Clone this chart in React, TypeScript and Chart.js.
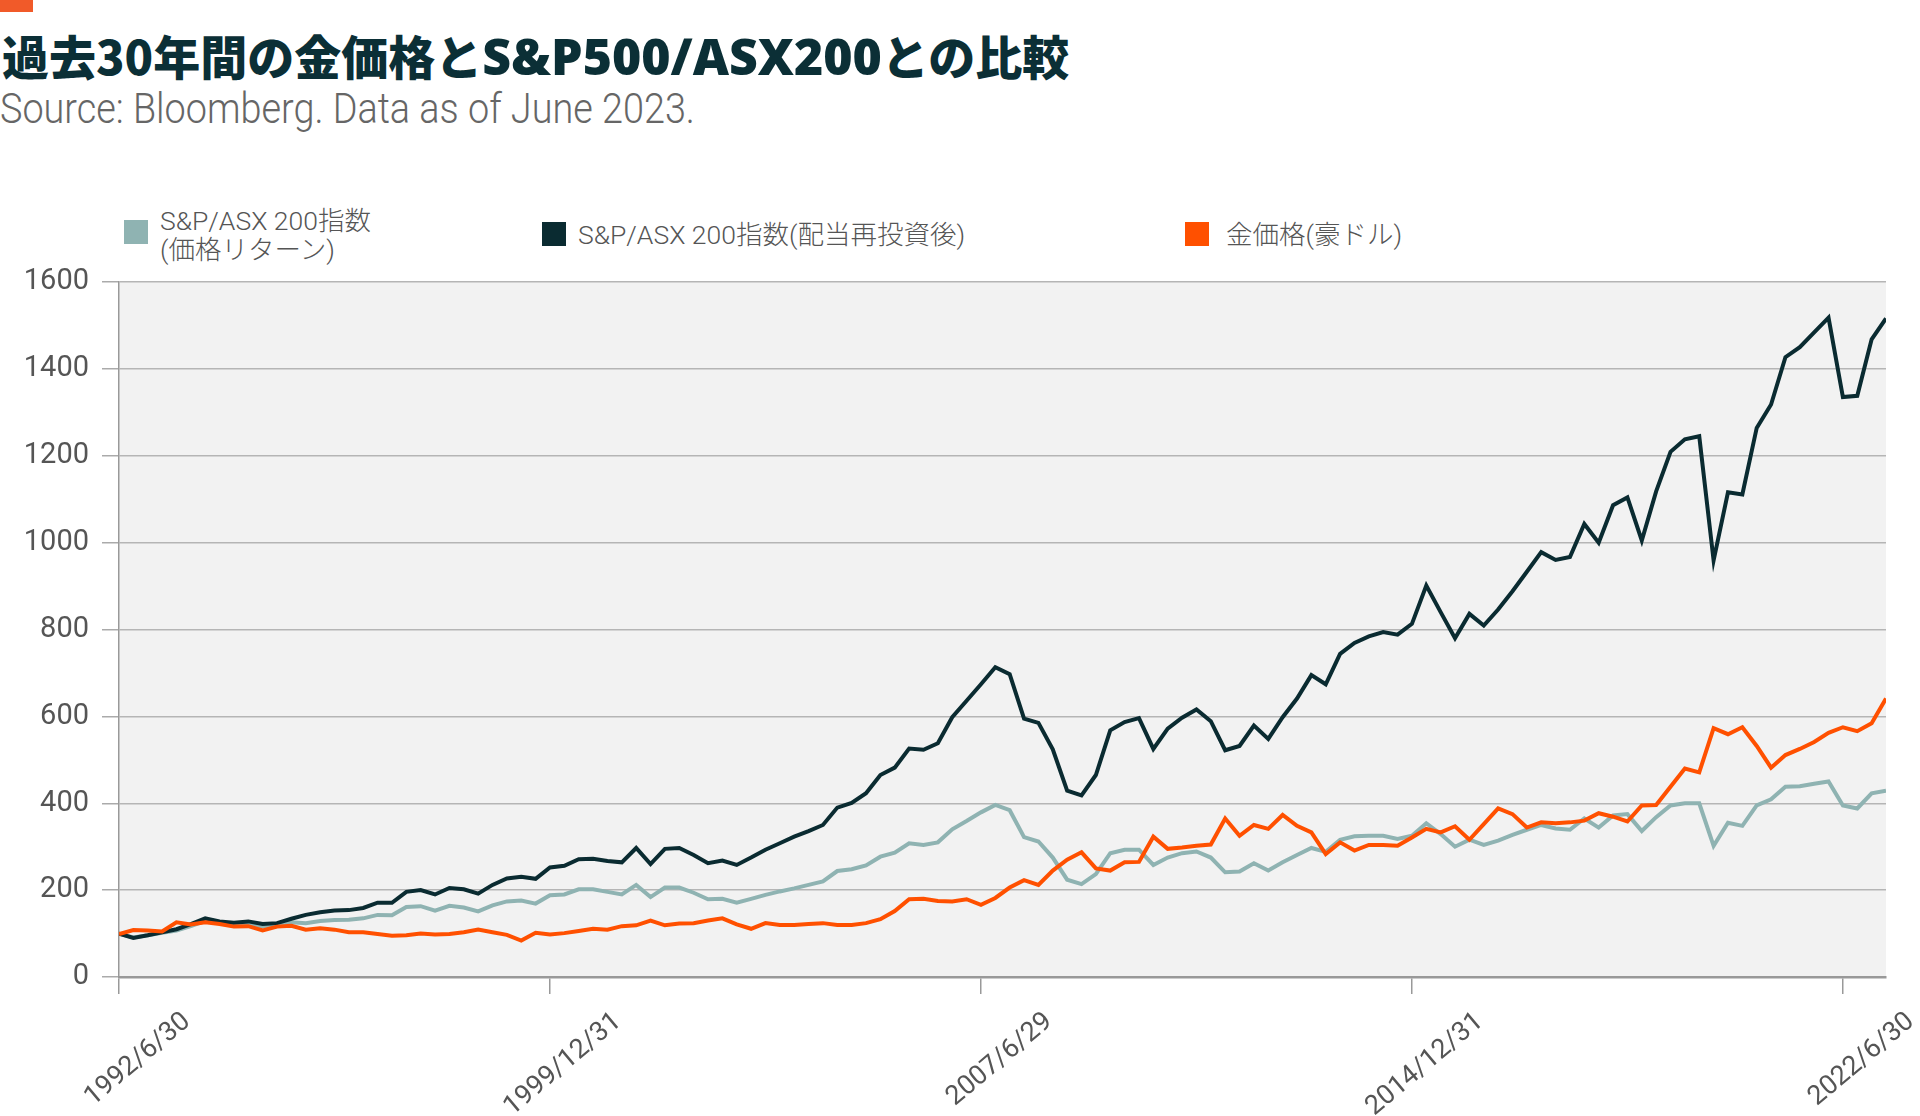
import React, { useEffect, useRef } from "react";
import { Chart, registerables } from "chart.js";

Chart.register(...registerables);

const titleParts = ["過去30年間の金価格と", "S&P500/ASX200", "との比較"];
const subtitleText = "Source: Bloomberg. Data as of June 2023.";

const tickDates = ["1992/6/30", "1999/12/31", "2007/6/29", "2014/12/31", "2022/6/30"];
const yTicks = [0, 200, 400, 600, 800, 1000, 1200, 1400, 1600];

const seriesNames = ["S&P/ASX 200指数(価格リターン)", "S&P/ASX 200指数(配当再投資後)", "金価格(豪ドル)"];

// quarterly, index 0 = 1992/6/30
const priceReturn = [
  100, 91, 96, 102, 107, 117, 129, 124, 120, 122,
  116, 118, 126, 124, 129, 131, 132, 135, 143, 142,
  161, 163, 153, 164, 160, 151, 165, 174, 176, 169,
  188, 190, 202, 202, 196, 190, 212, 184, 206, 206,
  194, 179, 180, 171, 180, 189, 197, 204, 212, 220,
  244, 248, 257, 277, 286, 308, 304, 310, 340, 359,
  379, 396, 384, 322, 312, 275, 224, 214, 237, 285,
  293, 293, 258, 275, 285, 289, 275, 241, 243, 262,
  245, 264, 281, 297, 288, 316, 324, 325, 325, 318,
  325, 354, 329, 300, 316, 304, 314, 327, 339, 350,
  342, 339, 365, 344, 372, 375, 336, 368, 395, 400,
  400, 302, 355, 348, 395, 409, 438, 439, 445, 450,
  395, 388, 423, 429,
];

const totalReturn = [
  100, 90, 96, 103, 110, 122, 135, 128, 125, 128,
  122, 124, 134, 143, 149, 153, 154, 159, 171, 171,
  196, 200, 190, 205, 202, 192, 212, 227, 231, 226,
  252, 256, 271, 272, 267, 264, 297, 260, 295, 297,
  281, 262, 268, 258, 275, 293, 308, 323, 336, 350,
  390, 401, 423, 465, 482, 526, 523, 538, 598, 636,
  674, 713, 697, 595, 585, 524, 429, 418, 465, 568,
  587, 596, 525, 572, 597, 616, 589, 522, 532, 579,
  548, 598, 641, 695, 674, 744, 769, 784, 794, 788,
  813, 901, 840, 780, 836, 809, 846, 888, 933, 978,
  960, 967, 1043, 1000, 1086, 1104, 1005, 1118, 1209, 1238,
  1245, 959, 1116, 1111, 1264, 1318, 1427, 1450, 1484, 1518,
  1335, 1338, 1468, 1516,
];

const goldAud = [
  99, 108, 107, 105, 126, 121, 126, 122, 116, 117,
  107, 116, 118, 109, 112, 109, 103, 103, 99, 95,
  96, 100, 98, 99, 103, 109, 103, 97, 84, 102,
  98, 101, 106, 111, 109, 117, 119, 130, 119, 123,
  124, 130, 135, 121, 111, 124, 120, 120, 122, 124,
  120, 120, 124, 133, 152, 179, 180, 175, 174, 179,
  166, 182, 206, 223, 212, 245, 270, 287, 250, 245,
  264, 265, 323, 295, 298, 302, 305, 365, 325, 350,
  341, 373, 348, 333, 283, 310, 291, 304, 304, 302,
  321, 341, 333, 347, 316, 352, 388, 375, 344, 356,
  354, 356, 360, 377, 369, 358, 395, 396, 438, 480,
  471, 573, 559, 575, 532, 482, 511, 525, 541, 562,
  575, 566, 584, 641,
];

const GREY = "#8fb3b2";
const DARK = "#0a2b31";
const ORANGE = "#ff5000";

const plotBg = {
  id: "plotBg",
  beforeDraw(chart: any) {
    const { ctx, chartArea } = chart;
    ctx.save();
    ctx.fillStyle = "#f2f2f2";
    ctx.fillRect(chartArea.left, chartArea.top, chartArea.right - chartArea.left, chartArea.bottom - chartArea.top);
    ctx.restore();
  },
};

export default function App() {
  const ref = useRef<HTMLCanvasElement>(null);

  useEffect(() => {
    const canvas = ref.current!;
    const pts = (arr: number[]) => arr.map((v, i) => ({ x: i, y: v }));
    Chart.defaults.font.family = "Roboto, 'Noto Sans CJK JP', sans-serif";
    const chart = new Chart(canvas, {
      type: "line",
      data: {
        datasets: [
          { label: seriesNames[0], data: pts(priceReturn), borderColor: GREY, backgroundColor: GREY, borderWidth: 4, pointRadius: 0, tension: 0, order: 2 },
          { label: seriesNames[1], data: pts(totalReturn), borderColor: DARK, backgroundColor: DARK, borderWidth: 4, pointRadius: 0, tension: 0, order: 1 },
          { label: seriesNames[2], data: pts(goldAud), borderColor: ORANGE, backgroundColor: ORANGE, borderWidth: 4, pointRadius: 0, tension: 0, order: 0 },
        ],
      },
      options: {
        animation: false,
        responsive: false,
        devicePixelRatio: 1,
        layout: { padding: { top: 40, right: 34, left: 0, bottom: 0 } },
        plugins: { legend: { display: false }, tooltip: { enabled: false } },
        scales: {
          x: {
            type: "linear",
            min: 0,
            max: priceReturn.length - 1,
            afterFit: (s: any) => { s.height = 139; },
            grid: { drawOnChartArea: false, drawTicks: true, tickLength: 17, color: "#999", lineWidth: 1.5 },
            border: { display: true, color: "#999", width: 2.5 },
            ticks: {
              stepSize: 30,
              includeBounds: false,
              autoSkip: false,
              maxRotation: 40,
              minRotation: 40,
              labelOffset: 68,
              padding: 12,
              color: "#555",
              font: { size: 27 },
              callback: (v: any) => tickDates[Math.round(Number(v) / 30)] ?? "",
            },
          },
          y: {
            min: yTicks[0],
            max: yTicks[yTicks.length - 1],
            afterFit: (s: any) => { s.width = 119; },
            ticks: { stepSize: 200, padding: 13, color: "#555", font: { size: 29 }, callback: (v: any) => String(v) },
            grid: { color: "#b5b5b5", lineWidth: 1.5, drawTicks: true, tickLength: 17, tickColor: "#aaa", tickWidth: 1.5 },
            border: { display: true, color: "#999", width: 1.5 },
          },
        },
      },
      plugins: [plotBg],
    } as any);
    return () => chart.destroy();
  }, []);

  const legendText: React.CSSProperties = {
    position: "absolute",
    fontFamily: "Roboto, 'Noto Sans CJK JP', sans-serif",
    fontWeight: 300,
    fontSize: 26.5,
    lineHeight: "29px",
    color: "#555",
    whiteSpace: "nowrap",
  };
  const sq = (left: number, top: number, color: string): React.CSSProperties => ({
    position: "absolute", left, top, width: 24, height: 24, background: color,
  });

  return (
    <div style={{ position: "fixed", left: 0, top: 0, width: 1920, height: 1116, background: "#fff", overflow: "hidden" }}>
      <div style={{ position: "absolute", left: 0, top: 0, width: 33, height: 12, background: "#f15a29" }} />
      <div style={{ position: "absolute", left: 2, top: 31, fontFamily: "'Noto Sans CJK JP', sans-serif", fontWeight: 900, fontSize: 47, lineHeight: "47px", color: "#0b2f36", whiteSpace: "nowrap" }}>
        {titleParts[0]}
        <span style={{ fontFamily: "'Open Sans', 'Noto Sans CJK JP', sans-serif", fontWeight: 800, fontSize: 50, lineHeight: "47px" }}>{titleParts[1]}</span>
        {titleParts[2]}
      </div>
      <div style={{ position: "absolute", left: 0, top: 88, fontFamily: "Roboto, sans-serif", fontWeight: 300, fontSize: 42, lineHeight: 1, color: "#666", whiteSpace: "nowrap", transform: "scaleX(0.9)", transformOrigin: "0 0" }}>
        {subtitleText}
      </div>

      <div style={sq(124, 220, GREY)} />
      <div style={{ ...legendText, left: 160, top: 206 }}>S&amp;P/ASX 200指数<br />(価格リターン)</div>
      <div style={sq(542, 222, DARK)} />
      <div style={{ ...legendText, left: 578, top: 220 }}>{seriesNames[1]}</div>
      <div style={sq(1185, 222, ORANGE)} />
      <div style={{ ...legendText, left: 1226, top: 220 }}>{seriesNames[2]}</div>

      <canvas ref={ref} width={1920} height={874} style={{ position: "absolute", left: 0, top: 242, width: 1920, height: 874 }} />
    </div>
  );
}
